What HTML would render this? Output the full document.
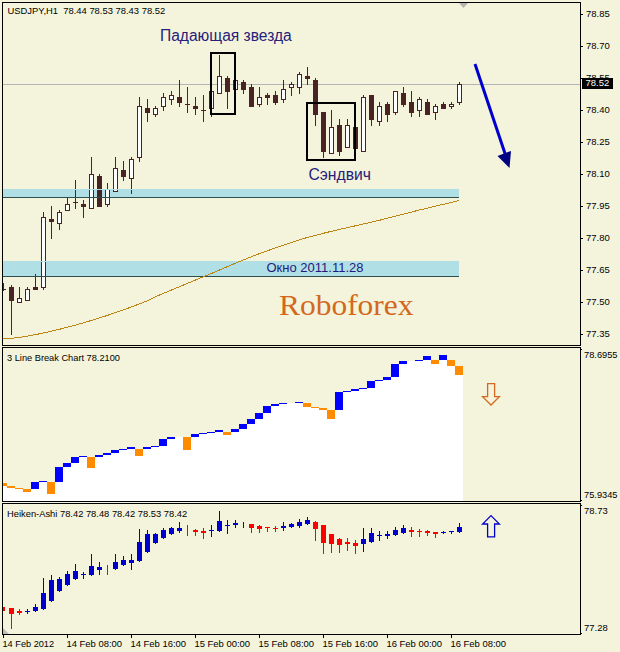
<!DOCTYPE html>
<html><head><meta charset="utf-8"><style>
html,body{margin:0;padding:0;background:#F4F4DC;}
svg{display:block;}
text{font-family:"Liberation Sans", sans-serif;}
</style></head><body>
<svg width="620" height="652" viewBox="0 0 620 652">
<rect x="0" y="0" width="620" height="652" fill="#F4F4DC"/><g shape-rendering="crispEdges"><rect x="3" y="189" width="456" height="8" fill="#B0E0E6"/><rect x="3" y="197" width="456" height="1" fill="#2F4F4F"/><rect x="3" y="261" width="456" height="15" fill="#B0E0E6"/><rect x="3" y="276" width="456" height="1" fill="#2F4F4F"/><rect x="3" y="84" width="577" height="1" fill="#B4B4B4"/></g><g shape-rendering="crispEdges"><rect x="3" y="283" width="1" height="8" fill="#4A2424"/><rect x="4" y="289" width="2" height="1" fill="#4A2424"/><rect x="11" y="285" width="1" height="50" fill="#4A2424"/><rect x="9" y="287" width="5" height="14" fill="#4A2424"/><rect x="19" y="287" width="1" height="16" fill="#4A2424"/><rect x="17" y="298" width="5" height="5" fill="#4A2424"/><rect x="18" y="299" width="3" height="3" fill="#FFFFFF"/><rect x="27" y="287" width="1" height="14" fill="#4A2424"/><rect x="25" y="289" width="5" height="12" fill="#4A2424"/><rect x="26" y="290" width="3" height="10" fill="#FFFFFF"/><rect x="35" y="274" width="1" height="16" fill="#4A2424"/><rect x="33" y="287" width="5" height="3" fill="#4A2424"/><rect x="43" y="212" width="1" height="78" fill="#4A2424"/><rect x="41" y="217" width="5" height="71" fill="#4A2424"/><rect x="42" y="218" width="3" height="69" fill="#FFFFFF"/><rect x="51" y="206" width="1" height="33" fill="#4A2424"/><rect x="49" y="219" width="5" height="3" fill="#4A2424"/><rect x="59" y="210" width="1" height="20" fill="#4A2424"/><rect x="57" y="212" width="5" height="12" fill="#4A2424"/><rect x="58" y="213" width="3" height="10" fill="#FFFFFF"/><rect x="67" y="198" width="1" height="13" fill="#4A2424"/><rect x="65" y="204" width="5" height="7" fill="#4A2424"/><rect x="66" y="205" width="3" height="5" fill="#FFFFFF"/><rect x="75" y="180" width="1" height="29" fill="#4A2424"/><rect x="73" y="202" width="5" height="1" fill="#4A2424"/><rect x="83" y="200" width="1" height="18" fill="#4A2424"/><rect x="81" y="204" width="5" height="3" fill="#4A2424"/><rect x="91" y="157" width="1" height="52" fill="#4A2424"/><rect x="89" y="174" width="5" height="35" fill="#4A2424"/><rect x="90" y="175" width="3" height="33" fill="#FFFFFF"/><rect x="99" y="174" width="1" height="33" fill="#4A2424"/><rect x="97" y="176" width="5" height="31" fill="#4A2424"/><rect x="107" y="183" width="1" height="24" fill="#4A2424"/><rect x="105" y="189" width="5" height="16" fill="#4A2424"/><rect x="106" y="190" width="3" height="14" fill="#FFFFFF"/><rect x="115" y="157" width="1" height="35" fill="#4A2424"/><rect x="113" y="168" width="5" height="24" fill="#4A2424"/><rect x="114" y="169" width="3" height="22" fill="#FFFFFF"/><rect x="123" y="161" width="1" height="20" fill="#4A2424"/><rect x="121" y="170" width="5" height="7" fill="#4A2424"/><rect x="131" y="157" width="1" height="37" fill="#4A2424"/><rect x="129" y="159" width="5" height="20" fill="#4A2424"/><rect x="130" y="160" width="3" height="18" fill="#FFFFFF"/><rect x="139" y="97" width="1" height="65" fill="#4A2424"/><rect x="137" y="106" width="5" height="52" fill="#4A2424"/><rect x="138" y="107" width="3" height="50" fill="#FFFFFF"/><rect x="147" y="99" width="1" height="23" fill="#4A2424"/><rect x="145" y="108" width="5" height="5" fill="#4A2424"/><rect x="155" y="106" width="1" height="11" fill="#4A2424"/><rect x="153" y="108" width="5" height="7" fill="#4A2424"/><rect x="154" y="109" width="3" height="5" fill="#FFFFFF"/><rect x="163" y="93" width="1" height="18" fill="#4A2424"/><rect x="161" y="97" width="5" height="10" fill="#4A2424"/><rect x="162" y="98" width="3" height="8" fill="#FFFFFF"/><rect x="171" y="91" width="1" height="14" fill="#4A2424"/><rect x="169" y="95" width="5" height="5" fill="#4A2424"/><rect x="170" y="96" width="3" height="3" fill="#FFFFFF"/><rect x="179" y="80" width="1" height="27" fill="#4A2424"/><rect x="177" y="97" width="5" height="6" fill="#4A2424"/><rect x="187" y="87" width="1" height="26" fill="#4A2424"/><rect x="185" y="104" width="5" height="1" fill="#4A2424"/><rect x="195" y="97" width="1" height="18" fill="#4A2424"/><rect x="193" y="106" width="5" height="3" fill="#4A2424"/><rect x="203" y="95" width="1" height="27" fill="#4A2424"/><rect x="201" y="110" width="5" height="1" fill="#4A2424"/><rect x="211" y="91" width="1" height="26" fill="#4A2424"/><rect x="209" y="91" width="5" height="18" fill="#4A2424"/><rect x="210" y="92" width="3" height="16" fill="#FFFFFF"/><rect x="219" y="55" width="1" height="39" fill="#4A2424"/><rect x="217" y="76" width="5" height="18" fill="#4A2424"/><rect x="218" y="77" width="3" height="16" fill="#FFFFFF"/><rect x="227" y="76" width="1" height="33" fill="#4A2424"/><rect x="225" y="78" width="5" height="14" fill="#4A2424"/><rect x="235" y="80" width="1" height="10" fill="#4A2424"/><rect x="233" y="80" width="5" height="10" fill="#4A2424"/><rect x="234" y="81" width="3" height="8" fill="#FFFFFF"/><rect x="243" y="80" width="1" height="14" fill="#4A2424"/><rect x="241" y="82" width="5" height="8" fill="#4A2424"/><rect x="251" y="84" width="1" height="23" fill="#4A2424"/><rect x="249" y="87" width="5" height="20" fill="#4A2424"/><rect x="259" y="87" width="1" height="20" fill="#4A2424"/><rect x="257" y="97" width="5" height="8" fill="#4A2424"/><rect x="258" y="98" width="3" height="6" fill="#FFFFFF"/><rect x="267" y="93" width="1" height="12" fill="#4A2424"/><rect x="265" y="95" width="5" height="3" fill="#4A2424"/><rect x="275" y="91" width="1" height="14" fill="#4A2424"/><rect x="273" y="95" width="5" height="8" fill="#4A2424"/><rect x="283" y="80" width="1" height="23" fill="#4A2424"/><rect x="281" y="89" width="5" height="11" fill="#4A2424"/><rect x="282" y="90" width="3" height="9" fill="#FFFFFF"/><rect x="291" y="82" width="1" height="14" fill="#4A2424"/><rect x="289" y="84" width="5" height="4" fill="#4A2424"/><rect x="290" y="85" width="3" height="2" fill="#FFFFFF"/><rect x="299" y="72" width="1" height="22" fill="#4A2424"/><rect x="297" y="74" width="5" height="14" fill="#4A2424"/><rect x="298" y="75" width="3" height="12" fill="#FFFFFF"/><rect x="307" y="67" width="1" height="18" fill="#4A2424"/><rect x="305" y="76" width="5" height="3" fill="#4A2424"/><rect x="315" y="78" width="1" height="48" fill="#4A2424"/><rect x="313" y="80" width="5" height="35" fill="#4A2424"/><rect x="323" y="112" width="1" height="46" fill="#4A2424"/><rect x="321" y="112" width="5" height="40" fill="#4A2424"/><rect x="331" y="110" width="1" height="44" fill="#4A2424"/><rect x="329" y="127" width="5" height="27" fill="#4A2424"/><rect x="330" y="128" width="3" height="25" fill="#FFFFFF"/><rect x="339" y="119" width="1" height="37" fill="#4A2424"/><rect x="337" y="125" width="5" height="27" fill="#4A2424"/><rect x="347" y="119" width="1" height="29" fill="#4A2424"/><rect x="345" y="125" width="5" height="23" fill="#4A2424"/><rect x="346" y="126" width="3" height="21" fill="#FFFFFF"/><rect x="355" y="127" width="1" height="22" fill="#4A2424"/><rect x="353" y="127" width="5" height="22" fill="#4A2424"/><rect x="363" y="95" width="1" height="57" fill="#4A2424"/><rect x="361" y="97" width="5" height="55" fill="#4A2424"/><rect x="362" y="98" width="3" height="53" fill="#FFFFFF"/><rect x="371" y="95" width="1" height="31" fill="#4A2424"/><rect x="369" y="95" width="5" height="25" fill="#4A2424"/><rect x="379" y="102" width="1" height="24" fill="#4A2424"/><rect x="377" y="106" width="5" height="16" fill="#4A2424"/><rect x="378" y="107" width="3" height="14" fill="#FFFFFF"/><rect x="387" y="102" width="1" height="20" fill="#4A2424"/><rect x="385" y="104" width="5" height="11" fill="#4A2424"/><rect x="395" y="91" width="1" height="24" fill="#4A2424"/><rect x="393" y="91" width="5" height="22" fill="#4A2424"/><rect x="394" y="92" width="3" height="20" fill="#FFFFFF"/><rect x="403" y="87" width="1" height="20" fill="#4A2424"/><rect x="401" y="93" width="5" height="12" fill="#4A2424"/><rect x="411" y="91" width="1" height="26" fill="#4A2424"/><rect x="409" y="102" width="5" height="11" fill="#4A2424"/><rect x="419" y="97" width="1" height="20" fill="#4A2424"/><rect x="417" y="99" width="5" height="12" fill="#4A2424"/><rect x="418" y="100" width="3" height="10" fill="#FFFFFF"/><rect x="427" y="99" width="1" height="16" fill="#4A2424"/><rect x="425" y="102" width="5" height="13" fill="#4A2424"/><rect x="435" y="104" width="1" height="16" fill="#4A2424"/><rect x="433" y="106" width="5" height="7" fill="#4A2424"/><rect x="434" y="107" width="3" height="5" fill="#FFFFFF"/><rect x="443" y="102" width="1" height="7" fill="#4A2424"/><rect x="441" y="104" width="5" height="5" fill="#4A2424"/><rect x="451" y="102" width="1" height="7" fill="#4A2424"/><rect x="449" y="104" width="5" height="3" fill="#4A2424"/><rect x="450" y="105" width="3" height="1" fill="#FFFFFF"/><rect x="459" y="82" width="1" height="23" fill="#4A2424"/><rect x="457" y="84" width="5" height="19" fill="#4A2424"/><rect x="458" y="85" width="3" height="17" fill="#FFFFFF"/></g><g shape-rendering="crispEdges"><rect x="3" y="189" width="456" height="1" fill="#B0E0E6"/><rect x="3" y="197" width="456" height="1" fill="#2F4F4F"/><rect x="3" y="261" width="456" height="1" fill="#B0E0E6"/><rect x="3" y="276" width="456" height="1" fill="#2F4F4F"/></g><polyline fill="none" stroke="#BC8614" stroke-width="1" shape-rendering="crispEdges" points="3,338.5 11,338.3 19,337.4 27,336.2 35,334.7 43,333.1 51,331.3 59,329.4 67,327.3 75,325.2 83,322.9 91,320.6 99,318.1 107,315.5 115,312.8 123,310.0 131,307.1 139,304.1 147,300.9 155,296.9 163,293.5 171,290.2 179,286.9 187,283.5 195,280.2 203,276.9 211,273.7 219,270.2 227,266.8 235,263.4 243,260.1 251,256.9 259,253.8 267,250.9 275,248.0 283,245.3 291,242.7 299,240.1 307,237.5 315,235.5 323,233.4 331,231.4 339,229.5 347,227.7 355,225.9 363,224.1 371,222.3 379,220.4 387,218.3 395,216.3 403,214.3 411,212.2 419,210.1 427,208.2 435,206.3 443,204.4 451,202.5 459,200.5"/><g shape-rendering="crispEdges" fill="none" stroke="#000" stroke-width="2"><rect x="211" y="53" width="24" height="61"/><rect x="307" y="103" width="48" height="57"/></g><line x1="475" y1="64" x2="506.5" y2="158" stroke="#0000CC" stroke-width="3"/><polygon points="497.5,156 511,151 509.5,168" fill="#000080"/><polygon points="459,3 468,3 463.5,8" fill="#B4B4B4"/><g shape-rendering="crispEdges"><rect x="3" y="483" width="4" height="18" fill="#FFFFFF"/><rect x="3" y="483" width="4" height="3" fill="#FF8C00"/><rect x="7" y="486" width="8" height="15" fill="#FFFFFF"/><rect x="7" y="486" width="8" height="2" fill="#FF8C00"/><rect x="15" y="488" width="8" height="13" fill="#FFFFFF"/><rect x="15" y="488" width="8" height="1" fill="#FF8C00"/><rect x="23" y="489" width="8" height="12" fill="#FFFFFF"/><rect x="23" y="489" width="8" height="3" fill="#FF8C00"/><rect x="31" y="482" width="8" height="19" fill="#FFFFFF"/><rect x="31" y="482" width="8" height="7" fill="#0000FF"/><rect x="39" y="481" width="8" height="20" fill="#FFFFFF"/><rect x="39" y="481" width="8" height="1" fill="#0000FF"/><rect x="47" y="482" width="8" height="19" fill="#FFFFFF"/><rect x="47" y="482" width="8" height="12" fill="#FF8C00"/><rect x="55" y="467" width="8" height="34" fill="#FFFFFF"/><rect x="55" y="467" width="8" height="15" fill="#0000FF"/><rect x="63" y="463" width="8" height="38" fill="#FFFFFF"/><rect x="63" y="463" width="8" height="4" fill="#0000FF"/><rect x="71" y="457" width="8" height="44" fill="#FFFFFF"/><rect x="71" y="457" width="8" height="6" fill="#0000FF"/><rect x="79" y="456" width="8" height="45" fill="#FFFFFF"/><rect x="79" y="456" width="8" height="1" fill="#0000FF"/><rect x="87" y="457" width="8" height="44" fill="#FFFFFF"/><rect x="87" y="457" width="8" height="11" fill="#FF8C00"/><rect x="95" y="455" width="8" height="46" fill="#FFFFFF"/><rect x="95" y="455" width="8" height="2" fill="#0000FF"/><rect x="103" y="453" width="8" height="48" fill="#FFFFFF"/><rect x="103" y="453" width="8" height="2" fill="#0000FF"/><rect x="111" y="450" width="8" height="51" fill="#FFFFFF"/><rect x="111" y="450" width="8" height="3" fill="#0000FF"/><rect x="119" y="449" width="8" height="52" fill="#FFFFFF"/><rect x="119" y="449" width="8" height="1" fill="#0000FF"/><rect x="127" y="447" width="8" height="54" fill="#FFFFFF"/><rect x="127" y="447" width="8" height="2" fill="#0000FF"/><rect x="135" y="449" width="8" height="52" fill="#FFFFFF"/><rect x="135" y="449" width="8" height="7" fill="#FF8C00"/><rect x="143" y="447" width="8" height="54" fill="#FFFFFF"/><rect x="143" y="447" width="8" height="2" fill="#0000FF"/><rect x="151" y="446" width="8" height="55" fill="#FFFFFF"/><rect x="151" y="446" width="8" height="1" fill="#0000FF"/><rect x="159" y="439" width="8" height="62" fill="#FFFFFF"/><rect x="159" y="439" width="8" height="7" fill="#0000FF"/><rect x="167" y="437" width="8" height="64" fill="#FFFFFF"/><rect x="167" y="437" width="8" height="2" fill="#0000FF"/><rect x="175" y="437" width="8" height="64" fill="#FFFFFF"/><rect x="183" y="437" width="8" height="64" fill="#FFFFFF"/><rect x="183" y="437" width="8" height="13" fill="#FF8C00"/><rect x="191" y="434" width="8" height="67" fill="#FFFFFF"/><rect x="191" y="434" width="8" height="3" fill="#0000FF"/><rect x="199" y="433" width="8" height="68" fill="#FFFFFF"/><rect x="199" y="433" width="8" height="1" fill="#0000FF"/><rect x="207" y="432" width="8" height="69" fill="#FFFFFF"/><rect x="207" y="432" width="8" height="1" fill="#0000FF"/><rect x="215" y="430" width="8" height="71" fill="#FFFFFF"/><rect x="215" y="430" width="8" height="2" fill="#0000FF"/><rect x="223" y="432" width="8" height="69" fill="#FFFFFF"/><rect x="223" y="432" width="8" height="3" fill="#FF8C00"/><rect x="231" y="429" width="8" height="72" fill="#FFFFFF"/><rect x="231" y="429" width="8" height="3" fill="#0000FF"/><rect x="239" y="424" width="8" height="77" fill="#FFFFFF"/><rect x="239" y="424" width="8" height="5" fill="#0000FF"/><rect x="247" y="419" width="8" height="82" fill="#FFFFFF"/><rect x="247" y="419" width="8" height="5" fill="#0000FF"/><rect x="255" y="413" width="8" height="88" fill="#FFFFFF"/><rect x="255" y="413" width="8" height="6" fill="#0000FF"/><rect x="263" y="406" width="8" height="95" fill="#FFFFFF"/><rect x="263" y="406" width="8" height="7" fill="#0000FF"/><rect x="271" y="404" width="8" height="97" fill="#FFFFFF"/><rect x="271" y="404" width="8" height="2" fill="#0000FF"/><rect x="279" y="403" width="8" height="98" fill="#FFFFFF"/><rect x="279" y="403" width="8" height="1" fill="#0000FF"/><rect x="287" y="403" width="8" height="98" fill="#FFFFFF"/><rect x="295" y="402" width="8" height="99" fill="#FFFFFF"/><rect x="295" y="402" width="8" height="1" fill="#0000FF"/><rect x="303" y="403" width="8" height="98" fill="#FFFFFF"/><rect x="303" y="403" width="8" height="4" fill="#FF8C00"/><rect x="311" y="407" width="8" height="94" fill="#FFFFFF"/><rect x="311" y="407" width="8" height="1" fill="#FF8C00"/><rect x="319" y="408" width="8" height="93" fill="#FFFFFF"/><rect x="319" y="408" width="8" height="2" fill="#FF8C00"/><rect x="327" y="410" width="8" height="91" fill="#FFFFFF"/><rect x="327" y="410" width="8" height="9" fill="#FF8C00"/><rect x="335" y="392" width="8" height="109" fill="#FFFFFF"/><rect x="335" y="392" width="8" height="18" fill="#0000FF"/><rect x="343" y="391" width="8" height="110" fill="#FFFFFF"/><rect x="343" y="391" width="8" height="1" fill="#0000FF"/><rect x="351" y="389" width="8" height="112" fill="#FFFFFF"/><rect x="351" y="389" width="8" height="2" fill="#0000FF"/><rect x="359" y="388" width="8" height="113" fill="#FFFFFF"/><rect x="359" y="388" width="8" height="1" fill="#0000FF"/><rect x="367" y="381" width="8" height="120" fill="#FFFFFF"/><rect x="367" y="381" width="8" height="7" fill="#0000FF"/><rect x="375" y="380" width="8" height="121" fill="#FFFFFF"/><rect x="375" y="380" width="8" height="1" fill="#0000FF"/><rect x="383" y="377" width="8" height="124" fill="#FFFFFF"/><rect x="383" y="377" width="8" height="3" fill="#0000FF"/><rect x="391" y="364" width="8" height="137" fill="#FFFFFF"/><rect x="391" y="364" width="8" height="13" fill="#0000FF"/><rect x="399" y="361" width="8" height="140" fill="#FFFFFF"/><rect x="399" y="361" width="8" height="3" fill="#0000FF"/><rect x="407" y="361" width="8" height="140" fill="#FFFFFF"/><rect x="415" y="360" width="8" height="141" fill="#FFFFFF"/><rect x="415" y="360" width="8" height="1" fill="#0000FF"/><rect x="423" y="356" width="8" height="145" fill="#FFFFFF"/><rect x="423" y="356" width="8" height="4" fill="#0000FF"/><rect x="431" y="360" width="8" height="141" fill="#FFFFFF"/><rect x="431" y="360" width="8" height="4" fill="#FF8C00"/><rect x="439" y="355" width="8" height="146" fill="#FFFFFF"/><rect x="439" y="355" width="8" height="5" fill="#0000FF"/><rect x="447" y="360" width="8" height="141" fill="#FFFFFF"/><rect x="447" y="360" width="8" height="6" fill="#FF8C00"/><rect x="455" y="366" width="8" height="135" fill="#FFFFFF"/><rect x="455" y="366" width="8" height="9" fill="#FF8C00"/></g><polygon points="487.6,383.6 494.6,383.6 494.6,396.6 499.4,396.6 491,405 482.6,396.6 487.6,396.6" fill="none" stroke="#D2691E" stroke-width="1.3" stroke-linejoin="miter"/><g shape-rendering="crispEdges"><rect x="3" y="607" width="1" height="4" fill="#FF0000"/><rect x="3" y="607" width="2" height="4" fill="#FF0000"/><rect x="11" y="608" width="1" height="21" fill="#FF0000"/><rect x="9" y="608" width="5" height="6" fill="#FF0000"/><rect x="19" y="609" width="1" height="6" fill="#FF0000"/><rect x="17" y="611" width="5" height="2" fill="#FF0000"/><rect x="27" y="609" width="1" height="5" fill="#0000CC"/><rect x="25" y="611" width="5" height="1" fill="#0000CC"/><rect x="35" y="604" width="1" height="8" fill="#0000CC"/><rect x="33" y="607" width="5" height="4" fill="#0000CC"/><rect x="43" y="578" width="1" height="32" fill="#0000CC"/><rect x="41" y="593" width="5" height="16" fill="#0000CC"/><rect x="51" y="575" width="1" height="27" fill="#0000CC"/><rect x="49" y="580" width="5" height="21" fill="#0000CC"/><rect x="59" y="577" width="1" height="15" fill="#0000CC"/><rect x="57" y="579" width="5" height="12" fill="#0000CC"/><rect x="67" y="571" width="1" height="15" fill="#0000CC"/><rect x="65" y="574" width="5" height="11" fill="#0000CC"/><rect x="75" y="564" width="1" height="16" fill="#0000CC"/><rect x="73" y="571" width="5" height="8" fill="#0000CC"/><rect x="83" y="572" width="1" height="7" fill="#0000CC"/><rect x="81" y="574" width="5" height="1" fill="#0000CC"/><rect x="91" y="554" width="1" height="22" fill="#0000CC"/><rect x="89" y="566" width="5" height="9" fill="#0000CC"/><rect x="99" y="562" width="1" height="13" fill="#0000CC"/><rect x="97" y="567" width="5" height="3" fill="#0000CC"/><rect x="107" y="565" width="1" height="10" fill="#FF0000"/><rect x="115" y="554" width="1" height="16" fill="#0000CC"/><rect x="113" y="562" width="5" height="7" fill="#0000CC"/><rect x="123" y="556" width="1" height="10" fill="#0000CC"/><rect x="121" y="560" width="5" height="5" fill="#0000CC"/><rect x="131" y="554" width="1" height="16" fill="#0000CC"/><rect x="129" y="560" width="5" height="3" fill="#0000CC"/><rect x="139" y="529" width="1" height="33" fill="#0000CC"/><rect x="137" y="542" width="5" height="19" fill="#0000CC"/><rect x="147" y="530" width="1" height="23" fill="#0000CC"/><rect x="145" y="534" width="5" height="18" fill="#0000CC"/><rect x="155" y="533" width="1" height="11" fill="#0000CC"/><rect x="153" y="534" width="5" height="9" fill="#0000CC"/><rect x="163" y="528" width="1" height="11" fill="#0000CC"/><rect x="161" y="530" width="5" height="8" fill="#0000CC"/><rect x="171" y="527" width="1" height="8" fill="#0000CC"/><rect x="169" y="528" width="5" height="6" fill="#0000CC"/><rect x="179" y="522" width="1" height="11" fill="#0000CC"/><rect x="177" y="528" width="5" height="3" fill="#0000CC"/><rect x="187" y="525" width="1" height="11" fill="#FF0000"/><rect x="195" y="529" width="1" height="7" fill="#FF0000"/><rect x="193" y="530" width="5" height="2" fill="#FF0000"/><rect x="203" y="528" width="1" height="11" fill="#FF0000"/><rect x="201" y="531" width="5" height="2" fill="#FF0000"/><rect x="211" y="525" width="1" height="12" fill="#0000CC"/><rect x="209" y="530" width="5" height="1" fill="#0000CC"/><rect x="219" y="511" width="1" height="21" fill="#0000CC"/><rect x="217" y="521" width="5" height="10" fill="#0000CC"/><rect x="227" y="520" width="1" height="14" fill="#0000CC"/><rect x="225" y="525" width="5" height="1" fill="#0000CC"/><rect x="235" y="520" width="1" height="8" fill="#0000CC"/><rect x="233" y="523" width="5" height="2" fill="#0000CC"/><rect x="243" y="522" width="1" height="6" fill="#0000CC"/><rect x="251" y="524" width="1" height="9" fill="#FF0000"/><rect x="249" y="524" width="5" height="4" fill="#FF0000"/><rect x="259" y="525" width="1" height="8" fill="#FF0000"/><rect x="257" y="526" width="5" height="3" fill="#FF0000"/><rect x="267" y="527" width="1" height="5" fill="#FF0000"/><rect x="265" y="527" width="5" height="1" fill="#FF0000"/><rect x="275" y="526" width="1" height="6" fill="#FF0000"/><rect x="273" y="528" width="5" height="1" fill="#FF0000"/><rect x="283" y="522" width="1" height="9" fill="#0000CC"/><rect x="281" y="526" width="5" height="2" fill="#0000CC"/><rect x="291" y="523" width="1" height="5" fill="#0000CC"/><rect x="289" y="524" width="5" height="3" fill="#0000CC"/><rect x="299" y="519" width="1" height="9" fill="#0000CC"/><rect x="297" y="522" width="5" height="4" fill="#0000CC"/><rect x="307" y="517" width="1" height="8" fill="#0000CC"/><rect x="305" y="520" width="5" height="4" fill="#0000CC"/><rect x="315" y="521" width="1" height="20" fill="#FF0000"/><rect x="313" y="522" width="5" height="7" fill="#FF0000"/><rect x="323" y="525" width="1" height="29" fill="#FF0000"/><rect x="321" y="525" width="5" height="18" fill="#FF0000"/><rect x="331" y="534" width="1" height="19" fill="#FF0000"/><rect x="329" y="534" width="5" height="10" fill="#FF0000"/><rect x="339" y="538" width="1" height="15" fill="#FF0000"/><rect x="337" y="539" width="5" height="6" fill="#FF0000"/><rect x="347" y="538" width="1" height="13" fill="#FF0000"/><rect x="345" y="542" width="5" height="2" fill="#FF0000"/><rect x="355" y="540" width="1" height="14" fill="#FF0000"/><rect x="353" y="543" width="5" height="3" fill="#FF0000"/><rect x="363" y="528" width="1" height="24" fill="#0000CC"/><rect x="361" y="539" width="5" height="5" fill="#0000CC"/><rect x="371" y="528" width="1" height="15" fill="#0000CC"/><rect x="369" y="533" width="5" height="9" fill="#0000CC"/><rect x="379" y="531" width="1" height="10" fill="#0000CC"/><rect x="377" y="535" width="5" height="1" fill="#0000CC"/><rect x="387" y="531" width="1" height="8" fill="#0000CC"/><rect x="385" y="534" width="5" height="2" fill="#0000CC"/><rect x="395" y="527" width="1" height="9" fill="#0000CC"/><rect x="393" y="530" width="5" height="5" fill="#0000CC"/><rect x="403" y="525" width="1" height="9" fill="#0000CC"/><rect x="401" y="528" width="5" height="5" fill="#0000CC"/><rect x="411" y="527" width="1" height="10" fill="#FF0000"/><rect x="409" y="530" width="5" height="2" fill="#FF0000"/><rect x="419" y="529" width="1" height="8" fill="#FF0000"/><rect x="417" y="531" width="5" height="1" fill="#FF0000"/><rect x="427" y="530" width="1" height="6" fill="#FF0000"/><rect x="425" y="531" width="5" height="2" fill="#FF0000"/><rect x="435" y="532" width="1" height="6" fill="#FF0000"/><rect x="433" y="532" width="5" height="2" fill="#FF0000"/><rect x="443" y="531" width="1" height="3" fill="#0000CC"/><rect x="441" y="532" width="5" height="1" fill="#0000CC"/><rect x="451" y="531" width="1" height="3" fill="#0000CC"/><rect x="449" y="531" width="5" height="1" fill="#0000CC"/><rect x="459" y="523" width="1" height="10" fill="#0000CC"/><rect x="457" y="527" width="5" height="5" fill="#0000CC"/></g><polygon points="491,515.6 499.4,524 494.6,524 494.6,536.8 487.6,536.8 487.6,524 482.6,524" fill="none" stroke="#0000CC" stroke-width="1.3"/><polygon points="3,628 3,634 9,634" fill="#BBBBBB"/><g shape-rendering="crispEdges" fill="#000"><rect x="2" y="2" width="579" height="1"/><rect x="2" y="345" width="579" height="1"/><rect x="2" y="2" width="1" height="344"/><rect x="580" y="2" width="1" height="344"/><rect x="2" y="347" width="579" height="1"/><rect x="2" y="501" width="579" height="1"/><rect x="2" y="347" width="1" height="155"/><rect x="580" y="347" width="1" height="155"/><rect x="2" y="503" width="579" height="1"/><rect x="2" y="634" width="579" height="1"/><rect x="2" y="503" width="1" height="132"/><rect x="580" y="503" width="1" height="132"/><rect x="581" y="14" width="2" height="1"/><rect x="581" y="46" width="2" height="1"/><rect x="581" y="78" width="2" height="1"/><rect x="581" y="110" width="2" height="1"/><rect x="581" y="142" width="2" height="1"/><rect x="581" y="174" width="2" height="1"/><rect x="581" y="206" width="2" height="1"/><rect x="581" y="238" width="2" height="1"/><rect x="581" y="270" width="2" height="1"/><rect x="581" y="302" width="2" height="1"/><rect x="581" y="334" width="2" height="1"/><rect x="581" y="349" width="1" height="1"/><rect x="581" y="500" width="1" height="1"/><rect x="581" y="505" width="1" height="1"/><rect x="581" y="633" width="1" height="1"/><rect x="3" y="635" width="1" height="3"/><rect x="67" y="635" width="1" height="3"/><rect x="131" y="635" width="1" height="3"/><rect x="195" y="635" width="1" height="3"/><rect x="259" y="635" width="1" height="3"/><rect x="323" y="635" width="1" height="3"/><rect x="387" y="635" width="1" height="3"/><rect x="451" y="635" width="1" height="3"/></g><rect x="582" y="78" width="31" height="11" fill="#000" shape-rendering="crispEdges"/>
<g style="white-space:pre" xml:space="preserve"><text x="586" y="17.2" font-size="9.8" fill="#000" textLength="23.7" lengthAdjust="spacingAndGlyphs">78.85</text><text x="586" y="49.2" font-size="9.8" fill="#000" textLength="23.7" lengthAdjust="spacingAndGlyphs">78.70</text><text x="586" y="81.2" font-size="9.8" fill="#000" textLength="23.7" lengthAdjust="spacingAndGlyphs">78.55</text><text x="586" y="113.2" font-size="9.8" fill="#000" textLength="23.7" lengthAdjust="spacingAndGlyphs">78.40</text><text x="586" y="145.2" font-size="9.8" fill="#000" textLength="23.7" lengthAdjust="spacingAndGlyphs">78.25</text><text x="586" y="177.2" font-size="9.8" fill="#000" textLength="23.7" lengthAdjust="spacingAndGlyphs">78.10</text><text x="586" y="209.2" font-size="9.8" fill="#000" textLength="23.7" lengthAdjust="spacingAndGlyphs">77.95</text><text x="586" y="241.2" font-size="9.8" fill="#000" textLength="23.7" lengthAdjust="spacingAndGlyphs">77.80</text><text x="586" y="273.2" font-size="9.8" fill="#000" textLength="23.7" lengthAdjust="spacingAndGlyphs">77.65</text><text x="586" y="305.2" font-size="9.8" fill="#000" textLength="23.7" lengthAdjust="spacingAndGlyphs">77.50</text><text x="586" y="337.2" font-size="9.8" fill="#000" textLength="23.7" lengthAdjust="spacingAndGlyphs">77.35</text><rect x="582" y="78" width="31" height="11" fill="#000" shape-rendering="crispEdges"/><text x="585.5" y="86.2" font-size="9.8" fill="#FFF" textLength="23.7" lengthAdjust="spacingAndGlyphs">78.52</text><text x="584" y="358" font-size="9.8" fill="#000" textLength="33.5" lengthAdjust="spacingAndGlyphs">78.6955</text><text x="584" y="498" font-size="9.8" fill="#000" textLength="33.5" lengthAdjust="spacingAndGlyphs">75.9345</text><text x="584" y="513.5" font-size="9.8" fill="#000" textLength="23.7" lengthAdjust="spacingAndGlyphs">78.73</text><text x="584" y="631" font-size="9.8" fill="#000" textLength="23.7" lengthAdjust="spacingAndGlyphs">77.28</text><text x="7.5" y="14.2" font-size="9.8" fill="#000" textLength="157.7" lengthAdjust="spacingAndGlyphs">USDJPY,H1&#160; 78.44 78.53 78.43 78.52</text><text x="7" y="361" font-size="9.8" fill="#000" textLength="113" lengthAdjust="spacingAndGlyphs">3 Line Break Chart 78.2100</text><text x="7" y="517" font-size="9.8" fill="#000" textLength="180.2" lengthAdjust="spacingAndGlyphs">Heiken-Ashi 78.42 78.48 78.42 78.53 78.42</text><text x="2.5" y="647" font-size="9.8" fill="#000" textLength="51.6" lengthAdjust="spacingAndGlyphs">14 Feb 2012</text><text x="66.5" y="647" font-size="9.8" fill="#000" textLength="55.6" lengthAdjust="spacingAndGlyphs">14 Feb 08:00</text><text x="130.5" y="647" font-size="9.8" fill="#000" textLength="55.6" lengthAdjust="spacingAndGlyphs">14 Feb 16:00</text><text x="194.5" y="647" font-size="9.8" fill="#000" textLength="55.6" lengthAdjust="spacingAndGlyphs">15 Feb 00:00</text><text x="258.5" y="647" font-size="9.8" fill="#000" textLength="55.6" lengthAdjust="spacingAndGlyphs">15 Feb 08:00</text><text x="322.5" y="647" font-size="9.8" fill="#000" textLength="55.6" lengthAdjust="spacingAndGlyphs">15 Feb 16:00</text><text x="386.5" y="647" font-size="9.8" fill="#000" textLength="55.6" lengthAdjust="spacingAndGlyphs">16 Feb 00:00</text><text x="450.5" y="647" font-size="9.8" fill="#000" textLength="55.6" lengthAdjust="spacingAndGlyphs">16 Feb 08:00</text><text x="160" y="41" font-size="16" fill="#26207A" textLength="131.7" lengthAdjust="spacingAndGlyphs">Падающая звезда</text><text x="308.5" y="180" font-size="16" fill="#26207A" textLength="62.5" lengthAdjust="spacingAndGlyphs">Сэндвич</text><text x="266.5" y="272" font-size="13.5" fill="#26187C" textLength="97" lengthAdjust="spacingAndGlyphs">Окно 2011.11.28</text><text x="279" y="314.5" font-size="30" fill="#D2691E" textLength="134.5" lengthAdjust="spacingAndGlyphs" style="font-family:'Liberation Serif', serif">Roboforex</text></g>
</svg>
</body></html>
